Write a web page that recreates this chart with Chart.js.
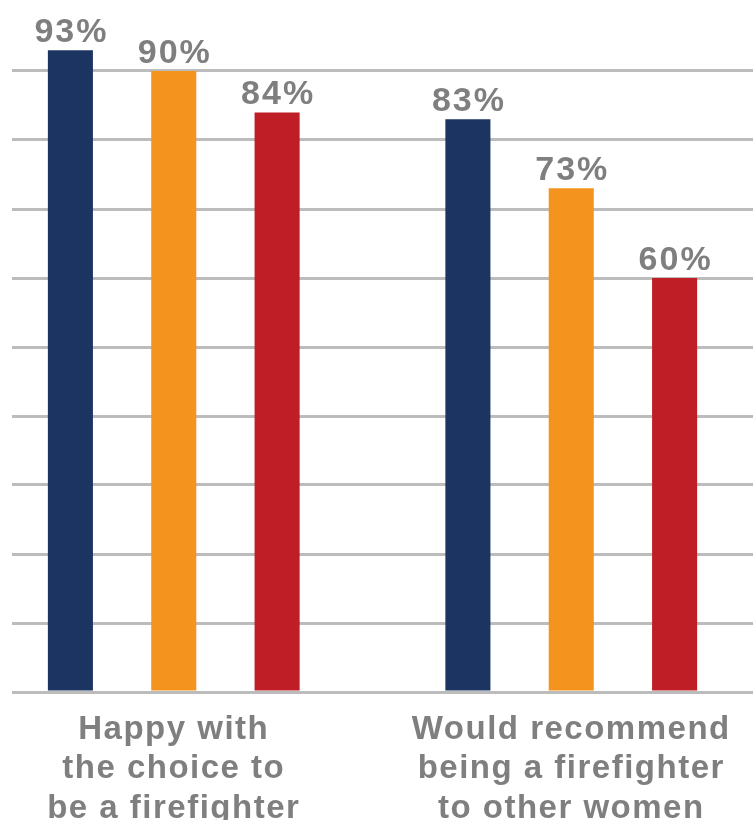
<!DOCTYPE html>
<html>
<head>
<meta charset="utf-8">
<title>Firefighter satisfaction</title>
<script src="https://cdn.jsdelivr.net/npm/chart.js@4"></script>
<style>
  html, body { margin: 0; padding: 0; background: #fff; overflow: hidden; }
  #wrap { position: relative; width: 753px; height: 820px; overflow: hidden; }
  #chart { position: absolute; left: -37px; top: 0; }
</style>
</head>
<body>
<div id="wrap">
  <canvas id="chart" width="807" height="820"></canvas>
</div>
<script>
// categories (multi-line tick labels) and one array per series
const categories = [
  ['Happy with', 'the choice to', 'be a firefighter'],
  ['Would recommend', 'being a firefighter', 'to other women']
];
const seriesOne = [93, 83];
const seriesTwo = [90, 73];
const seriesThree = [84, 60];

const colors = ['#1c3461', '#f5931f', '#bf1e27'];
const textGrey = '#7f7f7f';
const gridGrey = '#bcbcbc';

// canvas is shifted left so the two groups sit where they should;
// the grid is trimmed so it starts a little in from the page edge
const SHIFT = 37;
const GRID_START = 12;

Chart.defaults.font.family = '"Liberation Sans", Arial, sans-serif';

// a bit of tracking on all text, and trim the left end of the grid
const spacing = {
  id: 'spacing',
  beforeDraw(chart) { chart.ctx.letterSpacing = '1.5px'; },
  beforeDatasetsDraw(chart) {
    chart.ctx.clearRect(0, 0, SHIFT + GRID_START, chart.chartArea.bottom + 3);
  },
  afterDraw(chart) { chart.ctx.letterSpacing = '0px'; }
};

// percentage above each bar
const valueLabels = {
  id: 'valueLabels',
  afterDatasetsDraw(chart) {
    const { ctx } = chart;
    ctx.save();
    ctx.font = 'bold 34px "Liberation Sans", Arial, sans-serif';
    ctx.letterSpacing = '2px';
    ctx.fillStyle = textGrey;
    ctx.textAlign = 'center';
    ctx.textBaseline = 'alphabetic';
    chart.data.datasets.forEach((ds, i) => {
      chart.getDatasetMeta(i).data.forEach((bar, j) => {
        ctx.fillText(ds.data[j] + '%', bar.x + 1, bar.y - 8);
      });
    });
    ctx.restore();
  }
};

new Chart(document.getElementById('chart'), {
  type: 'bar',
  data: {
    labels: categories,
    datasets: [seriesOne, seriesTwo, seriesThree].map((data, i) => ({
      label: 'Series ' + (i + 1),
      data,
      backgroundColor: colors[i],
      categoryPercentage: 0.78,
      barPercentage: 0.436
    }))
  },
  options: {
    responsive: false,
    animation: false,
    layout: { padding: { left: GRID_START, top: 2, right: 0, bottom: 0 } },
    plugins: {
      legend: { display: false },
      tooltip: { enabled: false }
    },
    scales: {
      x: {
        grid: { display: false },
        border: { display: false },
        ticks: {
          color: textGrey,
          padding: 10,
          maxRotation: 0,
          autoSkip: false,
          font: { size: 33, weight: 'bold', lineHeight: 1.2 }
        },
        afterFit: (scale) => { scale.height = 128; }
      },
      y: {
        display: true,
        min: 0,
        max: 100,
        ticks: { display: false, stepSize: 10 },
        border: { display: false },
        grid: {
          lineWidth: 3,
          drawTicks: false,
          color: (c) => (c.tick && c.tick.value === 100 ? 'rgba(0,0,0,0)' : gridGrey)
        },
        afterFit: (scale) => { scale.width = 0; }
      }
    }
  },
  plugins: [spacing, valueLabels]
});
</script>
</body>
</html>
